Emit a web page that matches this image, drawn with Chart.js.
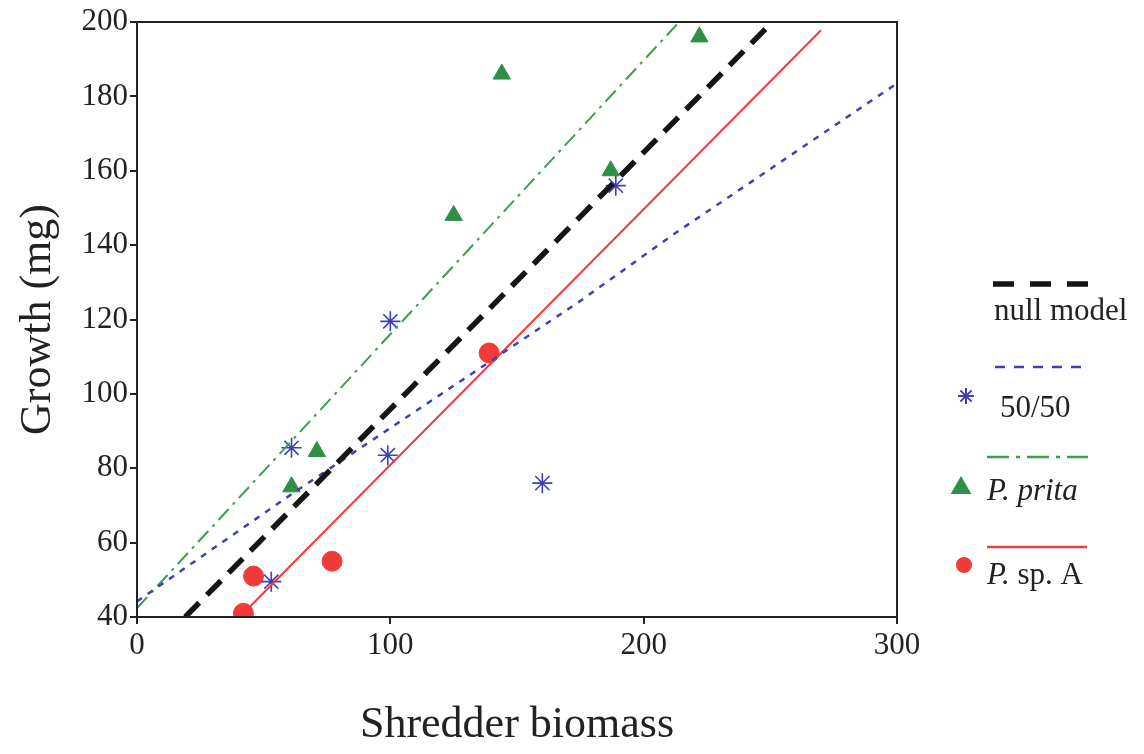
<!DOCTYPE html>
<html>
<head>
<meta charset="utf-8">
<script src="https://cdn.jsdelivr.net/npm/chart.js@4"></script>
<style>
  html, body { margin: 0; padding: 0; background: #fff; }
  #wrap { width: 1144px; height: 754px; }
</style>
</head>
<body>
<div id="wrap"><canvas id="growthChart" width="1144" height="754"></canvas></div>
<script>
// tick values
const xTicks = [0, 100, 200, 300];
const yTicks = [40, 60, 80, 100, 120, 140, 160, 180, 200];

// observed points
const mixX = [53, 61, 99, 100, 160, 189];
const mixY = [49.5, 85.5, 83.5, 119.5, 76, 156];
const pritaX = [61, 71, 125, 144, 187, 222];
const pritaY = [75, 84.5, 148, 186, 160, 196];
const spAX = [42, 46, 77, 139];
const spAY = [41, 51, 55, 111];

// fitted lines
const nullLineX = [19, 248.5];
const nullLineY = [40, 198.4];
const mixLineX = [0, 62, 96, 140, 175, 212, 257, 300];
const mixLineY = [44.2, 73.5, 89, 109, 125, 143, 163.7, 183.5];
const pritaLineX = [0, 214];
const pritaLineY = [42.4, 200];
const spALineX = [42, 270];
const spALineY = [41, 197.8];

const BLUE = "#3f3fb6";
const GREEN = "#2f8f45";
const GREEN_LINE = "#3a9f4e";
const RED = "#f23a3a";
const BLACK = "#151515";
const SERIF = "'Liberation Serif', 'Times New Roman', serif";

const toPoints = (xs, ys) => xs.map((x, i) => ({ x: x, y: ys[i] }));

const lineSet = (label, xs, ys, color, width, dash) => ({
    label: label,
    data: toPoints(xs, ys),
    showLine: true,
    borderColor: color,
    borderWidth: width,
    borderDash: dash,
    pointRadius: 0,
    pointHoverRadius: 0,
    fill: false,
    tension: 0,
});

const pointSet = (label, xs, ys, style, color, radius) => ({
    label: label,
    data: toPoints(xs, ys),
    showLine: false,
    pointStyle: style,
    pointRadius: radius,
    pointBackgroundColor: color,
    pointBorderColor: color,
    pointBorderWidth: style === "star" ? 1.6 : 1,
});

// frame around the plot area
const frame = {
    id: "frame",
    afterDraw(chart) {
        const a = chart.chartArea;
        const ctx = chart.ctx;
        ctx.save();
        ctx.strokeStyle = "#222";
        ctx.lineWidth = 2;
        ctx.strokeRect(a.left, a.top, a.right - a.left, a.bottom - a.top);
        ctx.restore();
    },
};

// legend drawn at the right, like the original figure
const legendItems = [
    { lineY: 284, x0: 993, x1: 1098, color: BLACK, width: 5.5, dash: [21, 16],
      textX: 994, textY: 312, parts: [["null model", false]] },
    { lineY: 367, x0: 995, x1: 1088, color: BLUE, width: 2.5, dash: [10, 9],
      mark: { style: "star", color: BLUE, r: 8, x: 966, y: 396 },
      textX: 1000, textY: 409, parts: [["50/50", false]] },
    { lineY: 457, x0: 987, x1: 1088, color: GREEN_LINE, width: 2.5, dash: [22, 7, 4, 7],
      mark: { style: "triangle", color: GREEN, r: 10, x: 961, y: 488 },
      textX: 987, textY: 492, parts: [["P. prita", true]] },
    { lineY: 547, x0: 987, x1: 1087, color: RED, width: 2.5, dash: [],
      mark: { style: "circle", color: RED, r: 7, x: 964, y: 565 },
      textX: 987, textY: 576, parts: [["P.", true], [" sp. A", false]] },
];

const sideLegend = {
    id: "sideLegend",
    afterDraw(chart) {
        const ctx = chart.ctx;
        ctx.save();
        legendItems.forEach((item) => {
            ctx.beginPath();
            ctx.setLineDash(item.dash);
            ctx.strokeStyle = item.color;
            ctx.lineWidth = item.width;
            ctx.moveTo(item.x0, item.lineY);
            ctx.lineTo(item.x1, item.lineY);
            ctx.stroke();
            ctx.setLineDash([]);

            if (item.mark) {
                ctx.fillStyle = item.mark.color;
                ctx.strokeStyle = item.mark.color;
                ctx.lineWidth = 2;
                Chart.helpers.drawPoint(ctx, {
                    pointStyle: item.mark.style,
                    radius: item.mark.r,
                    rotation: 0,
                    borderWidth: 2,
                }, item.mark.x, item.mark.y);
            }

            let x = item.textX;
            ctx.fillStyle = "#222";
            ctx.textBaseline = "middle";
            ctx.textAlign = "left";
            item.parts.forEach((part) => {
                ctx.font = (part[1] ? "italic " : "") + "31px " + SERIF;
                ctx.fillText(part[0], x, item.textY);
                x += ctx.measureText(part[0]).width;
            });
        });
        ctx.restore();
    },
};

const ctx = document.getElementById("growthChart").getContext("2d");

new Chart(ctx, {
    type: "scatter",
    data: {
        datasets: [
            lineSet("null model", nullLineX, nullLineY, BLACK, 5.5, [20, 11]),
            lineSet("50/50 fit", mixLineX, mixLineY, BLUE, 2.5, [6, 7]),
            lineSet("P. prita fit", pritaLineX, pritaLineY, GREEN_LINE, 2, [15, 6, 3, 6]),
            lineSet("P. sp. A fit", spALineX, spALineY, RED, 2, []),
            pointSet("50/50", mixX, mixY, "star", BLUE, 10),
            pointSet("P. prita", pritaX, pritaY, "triangle", GREEN, 10),
            pointSet("P. sp. A", spAX, spAY, "circle", RED, 10),
        ],
    },
    options: {
        responsive: false,
        animation: false,
        events: [],
        layout: {
            padding: { top: 22, right: 247, bottom: 0, left: 0 },
        },
        plugins: {
            legend: { display: false },
            tooltip: { enabled: false },
        },
        scales: {
            x: {
                type: "linear",
                min: 0,
                max: 300,
                afterBuildTicks: (scale) => {
                    scale.ticks = xTicks.map((v) => ({ value: v }));
                },
                afterFit: (scale) => {
                    scale.height = 137;
                },
                grid: {
                    display: true,
                    drawOnChartArea: false,
                    drawTicks: true,
                    tickLength: 7,
                    color: "#222",
                    lineWidth: 2,
                },
                border: { display: true, color: "#222", width: 2 },
                ticks: {
                    color: "#222",
                    padding: 3,
                    font: { family: SERIF, size: 31 },
                    maxRotation: 0,
                },
                title: {
                    display: true,
                    text: "Shredder biomass",
                    color: "#222",
                    font: { family: SERIF, size: 44 },
                    padding: { top: 0, bottom: 2 },
                },
            },
            y: {
                type: "linear",
                min: 40,
                max: 200,
                afterBuildTicks: (scale) => {
                    scale.ticks = yTicks.map((v) => ({ value: v }));
                },
                afterFit: (scale) => {
                    scale.width = 137;
                },
                grid: {
                    display: true,
                    drawOnChartArea: false,
                    drawTicks: true,
                    tickLength: 7,
                    color: "#222",
                    lineWidth: 2,
                },
                border: { display: true, color: "#222", width: 2 },
                ticks: {
                    color: "#222",
                    padding: 2,
                    font: { family: SERIF, size: 31 },
                },
                title: {
                    display: true,
                    text: "Growth (mg)",
                    color: "#222",
                    font: { family: SERIF, size: 44 },
                    padding: { top: 12, bottom: 0 },
                },
            },
        },
    },
    plugins: [frame, sideLegend],
});
</script>
</body>
</html>
